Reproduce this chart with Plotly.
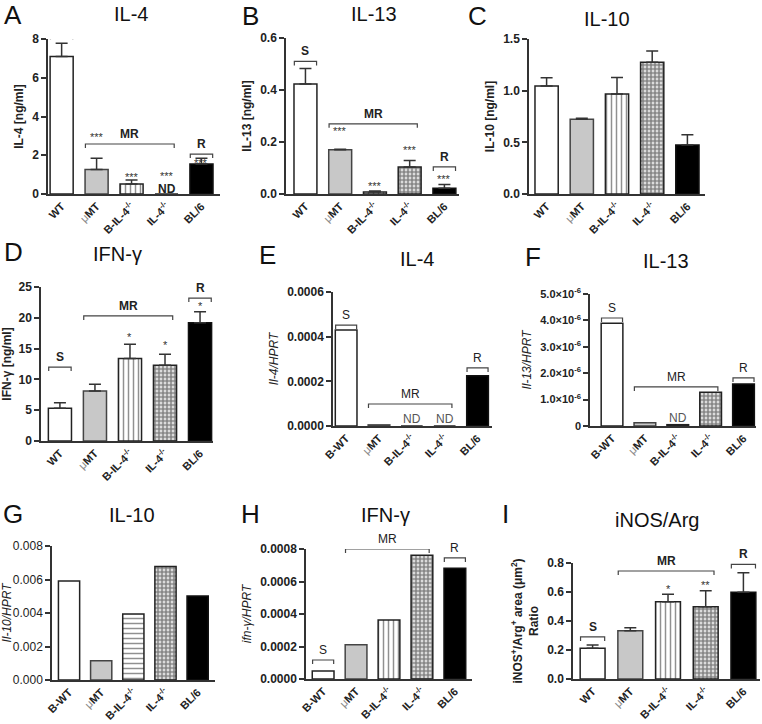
import plotly.graph_objects as go

W, H = 762, 724
FONT = "Liberation Sans, Arial, sans-serif"

# ---------------- data ----------------
cats_protein = ["WT", "μMT", "B-IL-4-/-", "IL-4-/-", "BL/6"]
cats_mrna = ["B-WT", "μMT", "B-IL-4-/-", "IL-4-/-", "BL/6"]

il4_ng = [7.1, 1.27, 0.52, 0.0, 1.55]
il4_ng_err = [0.68, 0.57, 0.2, 0.0, 0.3]
il13_ng = [0.423, 0.17, 0.008, 0.104, 0.022]
il13_ng_err = [0.06, 0.002, 0.004, 0.025, 0.015]
il10_ng = [1.045, 0.723, 0.968, 1.275, 0.474]
il10_ng_err = [0.08, 0.01, 0.16, 0.11, 0.10]
ifng_ng = [5.3, 8.1, 13.4, 12.3, 19.2]
ifng_ng_err = [0.9, 1.1, 2.3, 1.8, 1.8]
il4_mrna = [0.00043, 0.000005, 0.0, 0.0, 0.000225]
il13_mrna = [3.89e-6, 0.12e-6, 0.05e-6, 1.28e-6, 1.59e-6]
il10_mrna = [0.00591, 0.00115, 0.00394, 0.00677, 0.00502]
ifng_mrna = [0.000049, 0.000211, 0.000363, 0.000761, 0.000681]
inos_arg_ratio = [0.212, 0.333, 0.533, 0.499, 0.598]
inos_arg_ratio_err = [0.022, 0.021, 0.051, 0.11, 0.135]

# ---------------- styles per group ----------------
fills = ["white", "#c8c8c8", "white", "white", "black"]
lines = ["#222", "#444", "#222", "#222", "#111"]
patterns = [
    dict(shape=""),
    dict(shape=""),
    dict(shape="|", fgcolor="#222", bgcolor="white", size=5, solidity=0.3),
    dict(shape=".", fgcolor="#111", bgcolor="white", size=4, solidity=0.75),
    dict(shape=""),
]
patterns_g = list(patterns)
patterns_g[2] = dict(shape="-", fgcolor="#222", bgcolor="white", size=5, solidity=0.3)


def ticktext(cats):
    out = []
    for c in cats:
        if c == "μMT":
            out.append("<span style='font-weight:normal;color:#888'>μ</span>MT")
        elif c.endswith("-/-"):
            out.append(c[:-3] + "<sup>-/-</sup>")
        else:
            out.append(c)
    return out


panels = [
    dict(letter="A", title="IL-4", cats=cats_protein, y=il4_ng, e=il4_ng_err, box=(48, 220, 39, 194),
         xr=[-0.39, 4.53], yr=[0, 8], dtick=2, fmt="d", ytitle="<b>IL-4 [ng/ml]</b>", bold=True,
         title_xy=(131, 14), letter_xy=(13, 15),
         brackets=[("S", 0, 0, 8.2), ("MR", 1, 3, 2.58), ("R", 4, 4, 2.06)],
         stars=[(1, 3.1, "***"), (2, 1.02, "***"), (3, 1.1, "***"), (4, 1.75, "***")],
         nd=[(3, 0.27, True)], pats=patterns),
    dict(letter="B", title="IL-13", cats=cats_protein, y=il13_ng, e=il13_ng_err, box=(286, 459, 38, 194),
         xr=[-0.56, 4.42], yr=[0, 0.6], dtick=0.2, fmt=".1f", ytitle="<b>IL-13 [ng/ml]</b>", bold=True,
         title_xy=(374, 14), letter_xy=(250, 16),
         brackets=[("S", 0, 0, 0.51), ("MR", 1, 3, 0.27), ("R", 4, 4, 0.104)],
         stars=[(1, 0.255, "***"), (2, 0.042, "***"), (3, 0.18, "***"), (4, 0.07, "***")],
         nd=[], pats=patterns),
    dict(letter="C", title="IL-10", cats=cats_protein, y=il10_ng, e=il10_ng_err, box=(529, 705, 39, 194),
         xr=[-0.5, 4.5], yr=[0, 1.5], dtick=0.5, fmt=".1f", ytitle="<b>IL-10 [ng/ml]</b>", bold=True,
         title_xy=(607, 19), letter_xy=(477, 16),
         brackets=[], stars=[], nd=[], pats=patterns),
    dict(letter="D", title="IFN-γ", cats=cats_protein, y=ifng_ng, e=ifng_ng_err, box=(41, 213, 287, 441),
         xr=[-0.54, 4.37], yr=[0, 25], dtick=5, fmt="d", ytitle="<b>IFN-γ [ng/ml]</b>", bold=True,
         title_xy=(117, 254), letter_xy=(13, 252),
         brackets=[("S", 0, 0, 12.0), ("MR", 1, 3, 20.3), ("R", 4, 4, 23.2)],
         stars=[(2, 17.4, "*"), (3, 16.1, "*"), (4, 22.4, "*")],
         nd=[], pats=patterns),
    dict(letter="E", title="IL-4", cats=cats_mrna, y=il4_mrna, e=None, box=(333, 492, 292, 426),
         xr=[-0.4, 4.44], yr=[0, 0.0006], dtick=0.0002, fmt=".4f", ytitle="<i>Il-4/HPRT</i>", bold=True,
         title_xy=(417, 259), letter_xy=(267, 255),
         brackets=[("S", 0, 0, 0.000452), ("MR", 1, 3, 0.0000985), ("R", 4, 4, 0.00026)],
         stars=[], nd=[(2, 0.000031, False), (3, 0.000031, False)], pats=patterns, lbold=False),
    dict(letter="F", title="IL-13", cats=cats_mrna, y=il13_mrna, e=None, box=(590, 756, 294, 426),
         xr=[-0.67, 4.38], yr=[0, 5e-6], dtick=1e-6, fmt="sci", ytitle="<i>Il-13/HPRT</i>", bold=True,
         title_xy=(666, 261), letter_xy=(533, 257),
         brackets=[("S", 0, 0, 4.09e-6), ("MR", 1, 3, 1.48e-6), ("R", 4, 4, 1.82e-6)],
         stars=[], nd=[(2, 0.3e-6, False)], pats=patterns, lbold=False),
    dict(letter="G", title="IL-10", cats=cats_mrna, y=il10_mrna, e=None, box=(52, 215, 546, 680),
         xr=[-0.53, 4.54], yr=[0, 0.008], dtick=0.002, fmt=".3f", ytitle="<i>Il-10/HPRT</i>", bold=False,
         title_xy=(132, 515), letter_xy=(13, 514),
         brackets=[], stars=[], nd=[], pats=patterns_g),
    dict(letter="H", title="IFN-γ", cats=cats_mrna, y=ifng_mrna, e=None, box=(306, 472, 549, 679),
         xr=[-0.52, 4.52], yr=[0, 0.0008], dtick=0.0002, fmt=".4f", ytitle="<i>ifn-γ/HPRT</i>", bold=True,
         title_xy=(386, 515), letter_xy=(250, 514),
         brackets=[("S", 0, 0, 0.000117), ("MR", 1, 3, 0.0008), ("R", 4, 4, 0.000745)],
         stars=[], nd=[], pats=patterns, lbold=False),
    dict(letter="I", title="iNOS/Arg", cats=cats_protein, y=inos_arg_ratio, e=inos_arg_ratio_err,
         box=(573, 760, 563, 679),
         xr=[-0.52, 4.44], yr=[0, 0.8], dtick=0.2, fmt=".1f",
         ytitle="<b>iNOS<sup>+</sup>/Arg<sup>+</sup> area (μm<sup>2</sup>)<br>Ratio</b>", bold=True,
         title_xy=(657, 520), letter_xy=(505, 514),
         brackets=[("S", 0, 0, 0.29), ("MR", 1, 3, 0.745), ("R", 4, 4, 0.79)],
         stars=[(2, 0.64, "*"), (3, 0.67, "**")],
         nd=[], pats=patterns),
]

fig = go.Figure()
annotations = []
shapes = []

for i, p in enumerate(panels):
    n = i + 1
    xa = "x" if n == 1 else f"x{n}"
    ya = "y" if n == 1 else f"y{n}"
    x0, x1, yt, yb = p["box"]
    for j in range(5):
        err = None
        if p["e"] is not None and p["e"][j] > 0:
            err = dict(type="data", array=[p["e"][j]], arrayminus=[0], symmetric=False,
                       color="#333", thickness=1.5, width=6)
        fig.add_trace(go.Bar(
            x=[j], y=[p["y"][j]], width=0.66, xaxis=xa, yaxis=ya,
            marker=dict(color=fills[j], line=dict(color=lines[j], width=1.5), pattern=p["pats"][j]),
            error_y=err, showlegend=False, hoverinfo="skip"))

    tf = dict(family=FONT, size=12, color="#222", weight="bold" if p["bold"] else "normal")
    yax = dict(domain=[1 - yb / H, 1 - yt / H], range=p["yr"], anchor=xa, automargin=False,
               showline=True, linecolor="#333", linewidth=1.5, ticks="outside", ticklen=5,
               tickwidth=1.5, tickcolor="#333", showgrid=False, zeroline=False,
               tickfont=tf, title=dict(text=p["ytitle"], font=dict(family=FONT, size=12, color="#222"), standoff=6))
    if p["fmt"] == "sci":
        vals = [0, 1e-6, 2e-6, 3e-6, 4e-6, 5e-6]
        yax.update(tickmode="array", tickvals=vals,
                   ticktext=["0"] + [f"{k}.0×10<sup>-6</sup>" for k in range(1, 6)],
                   tickfont=dict(family=FONT, size=11, color="#222", weight="bold"))
    else:
        yax.update(tickmode="linear", tick0=0, dtick=p["dtick"], tickformat=p["fmt"])
    xax = dict(domain=[x0 / W, x1 / W], range=p["xr"], anchor=ya, automargin=False, showline=True,
               linecolor="#333", linewidth=1.5, ticks="", showgrid=False, zeroline=False, tickmode="array",
               tickvals=list(range(5)), ticktext=ticktext(p["cats"]), tickangle=-45,
               tickfont=dict(family=FONT, size=11, color="#222", weight="bold"))
    fig.layout[("xaxis" if n == 1 else f"xaxis{n}")] = xax
    fig.layout[("yaxis" if n == 1 else f"yaxis{n}")] = yax

    annotations.append(dict(x=p["title_xy"][0] / W, y=1 - p["title_xy"][1] / H, xref="paper", yref="paper",
                            xanchor="center", yanchor="middle",
                            text=p["title"], showarrow=False, font=dict(family=FONT, size=20, color="#111")))
    annotations.append(dict(x=p["letter_xy"][0] / W, y=1 - p["letter_xy"][1] / H, xref="paper", yref="paper",
                            xanchor="center", yanchor="middle",
                            text=p["letter"], showarrow=False, font=dict(family=FONT, size=26, color="#111")))

    ph = yb - yt
    tick = 4 / ph * (p["yr"][1] - p["yr"][0])
    lb = p.get("lbold", True)
    for lab, a, b, yv in p["brackets"]:
        xs, xe = a - 0.32, b + (0.32 if a == b else 0.22)
        shapes.append(dict(type="path", xref=xa, yref=ya,
                           path=f"M {xs} {yv - tick} L {xs} {yv} L {xe} {yv} L {xe} {yv - tick}",
                           line=dict(color="#444", width=1.2)))
        annotations.append(dict(x=(xs + xe) / 2, y=yv, xref=xa, yref=ya, text=lab, showarrow=False,
                                xanchor="center", yanchor="bottom", yshift=1,
                                font=dict(family=FONT, size=12, color="#222", weight="bold" if lb else "normal")))
    for c, yv, s in p["stars"]:
        annotations.append(dict(x=c, y=yv, xref=xa, yref=ya, text=s, showarrow=False, yshift=-3,
                                xanchor="center", yanchor="middle",
                                font=dict(family=FONT, size=11, color="#333")))
    for c, yv, bold in p["nd"]:
        annotations.append(dict(x=c, y=yv, xref=xa, yref=ya, text="ND", showarrow=False,
                                xanchor="center", yanchor="middle",
                                font=dict(family=FONT, size=12, color="#222" if bold else "#555",
                                          weight="bold" if bold else "normal")))

fig.update_layout(width=W, height=H, margin=dict(l=0, r=0, t=0, b=0, autoexpand=False), paper_bgcolor="white",
                  plot_bgcolor="white", barmode="overlay", annotations=annotations, shapes=shapes,
                  font=dict(family=FONT))
fig.write_html("out.html", config={"displayModeBar": False},
               post_script="document.body.style.margin='0px';document.body.style.overflow='hidden';")
